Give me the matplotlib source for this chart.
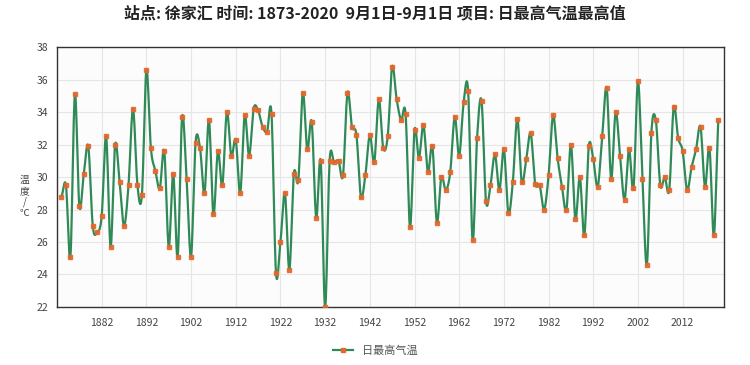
import numpy as np
import matplotlib
matplotlib.use("Agg")
import matplotlib.pyplot as plt
from matplotlib.lines import Line2D

plt.rcParams['font.family'] = ['Noto Sans CJK SC', 'DejaVu Sans']

# 1873-2020, 9月1日 daily max temperature
years = list(range(1873, 2021))
tmax = [
    28.8, 29.5, 25.1, 35.1, 28.2, 30.2, 31.9, 27.0, 26.6, 27.6,
    32.5, 25.7, 32.0, 29.7, 27.0, 29.5, 34.2, 29.5, 28.9, 36.6,
    31.8, 30.4, 29.3, 31.6, 25.7, 30.2, 25.1, 33.7, 29.9, 25.1,
    32.1, 31.8, 29.0, 33.5, 27.7, 31.6, 29.5, 34.0, 31.3, 32.3,
    29.0, 33.8, 31.3, 34.2, 34.1, 33.1, 32.8, 33.9, 24.1, 26.0,
    29.0, 24.3, 30.2, 29.8, 35.2, 31.7, 33.4, 27.5, 31.0, 22.0,
    31.0, 30.9, 31.0, 30.1, 35.2, 33.1, 32.6, 28.8, 30.1, 32.6,
    30.9, 34.8, 31.8, 32.5, 36.8, 34.8, 33.5, 33.9, 26.9, 32.9,
    31.2, 33.2, 30.3, 31.9, 27.2, 30.0, 29.2, 30.3, 33.7, 31.3,
    34.6, 35.3, 26.1, 32.4, 34.7, 28.5, 29.5, 31.4, 29.2, 31.7,
    27.8, 29.7, 33.6, 29.7, 31.1, 32.7, 29.6, 29.5, 28.0, 30.1,
    33.8, 31.2, 29.4, 28.0, 32.0, 27.4, 30.0, 26.4, 31.9, 31.1,
    29.4, 32.5, 35.5, 29.9, 34.0, 31.3, 28.6, 31.7, 29.3, 35.9,
    29.9, 24.6, 32.7, 33.5, 29.5, 30.0, 29.2, 34.3, 32.4, 31.6,
    29.2, 30.6, 31.7, 33.1, 29.4, 31.8, 26.4, 33.5,
]
xticks = list(range(1882, 2013, 10))
yticks = list(range(22, 39, 2))
ylabel = '温度/℃'


def smooth(x, y, n=12):
    # catmull-rom through the points
    x = np.asarray(x, float)
    y = np.asarray(y, float)
    px = np.concatenate([[2 * x[0] - x[1]], x, [2 * x[-1] - x[-2]]])
    py = np.concatenate([[y[0]], y, [y[-1]]])
    xs, ys = [], []
    t = np.linspace(0, 1, n, endpoint=False)
    for i in range(1, len(px) - 2):
        for p, out in ((px, xs), (py, ys)):
            p0, p1, p2, p3 = p[i - 1], p[i], p[i + 1], p[i + 2]
            out.extend(0.5 * ((2 * p1) + (-p0 + p2) * t
                              + (2 * p0 - 5 * p1 + 4 * p2 - p3) * t ** 2
                              + (-p0 + 3 * p1 - 3 * p2 + p3) * t ** 3))
    xs.append(x[-1])
    ys.append(y[-1])
    return xs, ys


line_color = '#2f8a57'
mark_color = '#e4682c'

fig = plt.figure(figsize=(7.5, 3.65), dpi=100)
ax = fig.add_axes([0.076, 0.159, 0.889, 0.712])
ax.set_facecolor('#fcfcfc')

sx, sy = smooth(years, tmax)
ax.plot(sx, sy, color=line_color, lw=1.6, zorder=3)
ax.plot(years, tmax, ls='none', marker='s', ms=3.3, color=mark_color,
        mec=mark_color, alpha=0.9, zorder=4)

ax.set_xlim(1872.0, 2021.2)
ax.set_ylim(22, 38)
ax.set_xticks(xticks)
ax.set_yticks(yticks)
ax.tick_params(axis='both', length=0, labelsize=7.5, colors='#444444')
ax.tick_params(axis='x', pad=8)
ax.tick_params(axis='y', pad=6)
ax.grid(True, color='#e6e6e6', lw=0.8)
ax.set_axisbelow(True)
for s in ax.spines.values():
    s.set_color('#333333')
    s.set_linewidth(1.0)

# stacked y label, one glyph per row
for k, ch in enumerate(ylabel):
    fig.text(0.033, 1 - (180 + 11 * k) / 365, ch, ha='center', va='center',
             fontsize=7, color='#444444')

fig.suptitle('站点: 徐家汇 时间: 1873-2020  9月1日-9月1日 项目: 日最高气温最高值',
             x=0.5, y=0.985, fontsize=11.5, fontweight='bold', color='#222222')

handle = Line2D([], [], color=line_color, lw=1.6, marker='s', ms=3.3,
                mfc=mark_color, mec=mark_color)
fig.legend([handle], ['日最高气温'], loc='center', bbox_to_anchor=(0.5, 0.04),
           frameon=False, fontsize=8, handlelength=1.8, labelcolor='#555555')

fig.savefig('out.png', dpi=100)
